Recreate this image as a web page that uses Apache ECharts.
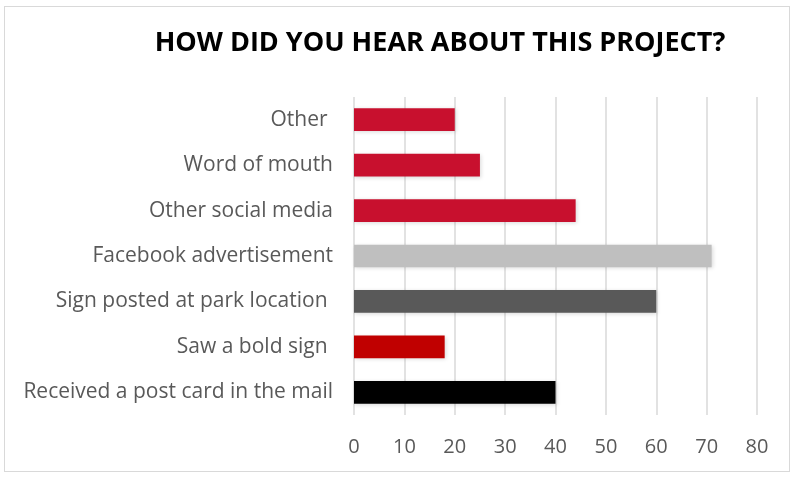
<!DOCTYPE html>
<html><head><meta charset="utf-8">
<script src="https://cdn.jsdelivr.net/npm/echarts@6/dist/echarts.min.js"></script>
<style>html,body{margin:0;padding:0;background:#fff}#c{width:796px;height:478px;}
#frame{position:absolute;left:4px;top:6px;width:786px;height:466px;border:1.5px solid #D9D9D9;box-sizing:border-box;pointer-events:none}</style>
</head><body><div id="c"></div><div id="frame"></div>
<script>
const categories = ["Other ", "Word of mouth", "Other social media", "Facebook advertisement", "Sign posted at park location ", "Saw a bold sign ", "Received a post card in the mail"];
const values = [20, 25, 44, 71, 60, 18, 40];
const barColors = ["#C8102E", "#C8102E", "#C8102E", "#BFBFBF", "#595959", "#C00000", "#000000"];
const xTicks = [0, 10, 20, 30, 40, 50, 60, 70, 80];

const chart = echarts.init(document.getElementById('c'));
chart.setOption({
  animation: false,
  title: {
    text: 'HOW DID YOU HEAR ABOUT THIS PROJECT?',
    left: 435, top: 25, textAlign: 'center',
    textStyle: {fontFamily: 'Open Sans', fontWeight: 'bold', fontSize: 27, color: '#000'}
  },
  grid: {left: 354, right: 39, top: 97, bottom: 63, containLabel: false},
  xAxis: {
    type: 'value', min: xTicks[0], max: xTicks[xTicks.length-1], interval: 10,
    axisLine: {show: false}, axisTick: {show: false},
    axisLabel: {color: '#595959', fontFamily: 'Open Sans', fontSize: 20, margin: 22},
    splitLine: {show: true, lineStyle: {color: '#D9D9D9', width: 1.5}}
  },
  yAxis: {
    type: 'category', data: categories, inverse: true,
    axisLine: {show: false}, axisTick: {show: false},
    axisLabel: {color: '#595959', fontFamily: 'Open Sans', fontSize: 21, margin: 21}
  },
  series: [{
    type: 'bar', barWidth: '50%',
    data: values.map((v, i) => ({value: v, itemStyle: {color: barColors[i]}})),
    itemStyle: {shadowBlur: 4, shadowColor: 'rgba(0,0,0,0.15)', shadowOffsetX: 1, shadowOffsetY: 1}
  }]
});
</script></body></html>
